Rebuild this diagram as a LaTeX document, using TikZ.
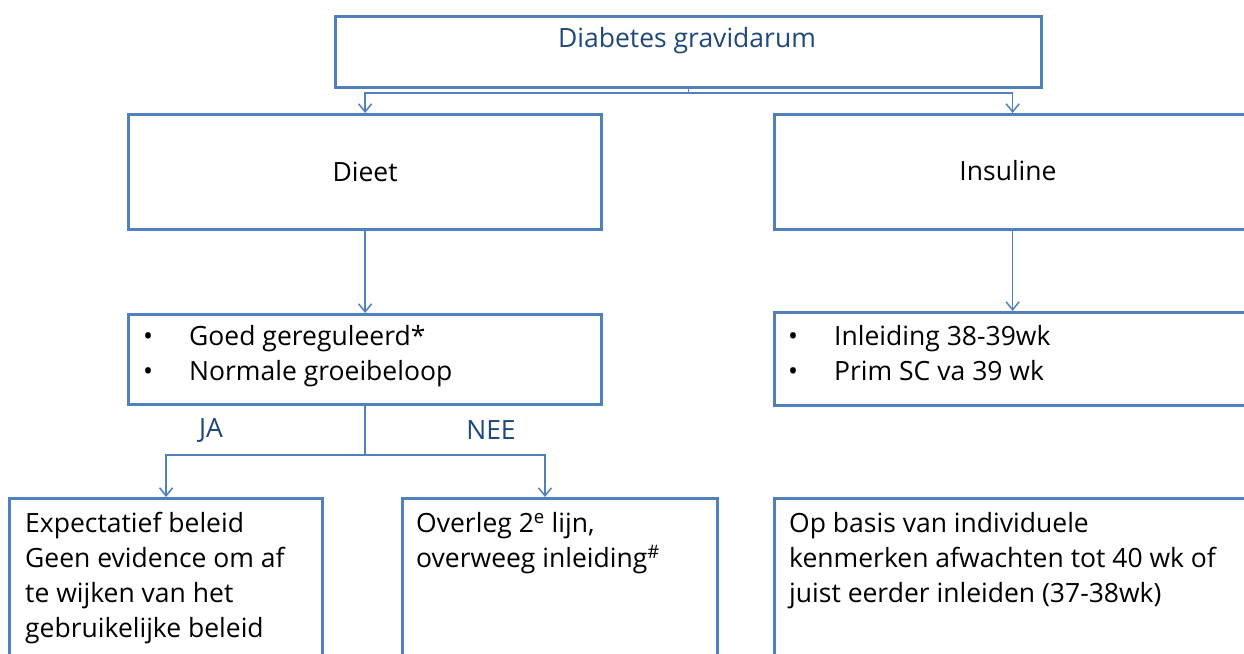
\documentclass[tikz,border=0pt]{standalone}
\usepackage{fontspec}
\setmainfont{Open Sans}
\usetikzlibrary{arrows.meta}
\definecolor{boxblue}{HTML}{4F81BD}
\definecolor{darkblue}{HTML}{1F497D}
\tikzset{
  box/.style={draw=boxblue, line width=3.2pt, rectangle, inner sep=0pt, fill=white},
  conn/.style={draw=boxblue, line width=1.5pt},
  arr/.style={conn, -{Straight Barb[length=8pt,width=13pt,line width=1.5pt]}},
  txt/.style={inner sep=0pt, font=\fontsize{26.5}{35}\selectfont, align=left, text=black},
  btxt/.style={txt, text=darkblue},
}
\begin{document}
\begin{tikzpicture}[x=1pt,y=-1pt]
\useasboundingbox (0,0) rectangle (1244,653);
\clip (0,0) rectangle (1244,653);
\fill[white] (0,0) rectangle (1244,653);

% boxes
\node[box, anchor=north west, minimum width=706pt, minimum height=71pt] (top) at (334,15) {};
\node[btxt, anchor=center] (toptxt) at (687,41) {Diabetes gravidarum};

\node[box, anchor=north west, minimum width=473pt, minimum height=115pt, txt] (dieet) at (127,113) {Dieet};
\node[box, anchor=north west, minimum width=476pt, minimum height=115pt] (insu) at (773,113) {};
\node[txt] (insutxt) at (1008,171) {Insuline};

\node[box, anchor=north west, minimum width=473pt, minimum height=90pt] (bl) at (127,313) {};
\node[txt, anchor=west] (bltxt) at (143,356) {\makebox[46pt][l]{•}Goed gereguleerd*\\\makebox[46pt][l]{•}Normale groeibeloop};

\node[box, anchor=north west, minimum width=480pt, minimum height=93pt] (br) at (773,311) {};
\node[txt, anchor=west] (brtxt) at (788,353) {\makebox[46pt][l]{•}Inleiding 38-39wk\\\makebox[46pt][l]{•}Prim SC va 39 wk};

\node[box, anchor=north west, minimum width=313pt, minimum height=200pt] (ja) at (8,497) {};
\node[txt, anchor=north west] (jatxt) at (25,512) {Expectatief beleid\\Geen evidence om af\\te wijken van het\\gebruikelijke beleid};

\node[box, anchor=north west, minimum width=315pt, minimum height=200pt] (nee) at (401,497) {};
\node[txt, anchor=north west] (neetxt) at (416,512) {Overleg 2\textsuperscript{e} lijn,\\overweeg inleiding\textsuperscript{\#}};

\node[box, anchor=north west, minimum width=480pt, minimum height=200pt] (ind) at (773,497) {};
\node[txt, anchor=north west] (indtxt) at (789,512) {Op basis van individuele\\kenmerken afwachten tot 40 wk of\\juist eerder inleiden (37-38wk)};

% connectors
\draw[conn] (top.south) -- ++(0,4) coordinate (j1);
\draw[arr] (j1) -| (dieet.north);
\draw[arr] (j1) -| (insu.north);
\draw[arr] (dieet.south) -- (dieet.south |- bl.north);
\draw[arr] (insu.south) -- (insu.south |- br.north);

\coordinate (neein) at (545,497);
\draw[conn] (bl.south) -- ++(0,49) coordinate (j2);
\draw[arr] (j2) -| (ja.north);
\draw[arr] (j2) -| (neein);

\node[btxt] (jalab) at (211,430) {JA};
\node[btxt] (neelab) at (491,430) {NEE};
\end{tikzpicture}
\end{document}
